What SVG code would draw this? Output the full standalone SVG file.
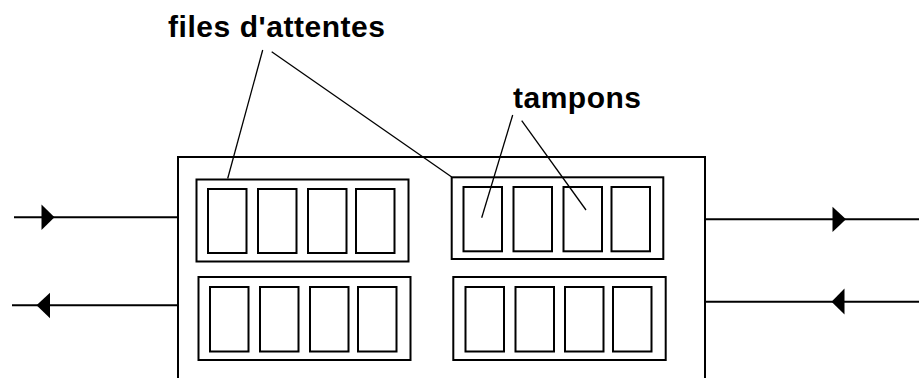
<svg xmlns="http://www.w3.org/2000/svg" width="919" height="378" viewBox="0 0 919 378">
<style>
.box{fill:none;stroke:#000;stroke-width:2}
.cell{fill:none;stroke:#000;stroke-width:2}
.wire{fill:none;stroke:#000;stroke-width:2}
.lead{fill:none;stroke:#000;stroke-width:1.3}
.head{fill:#000;stroke:none}
.lbl{font-family:"Liberation Sans",Arial,sans-serif;font-weight:bold;font-size:30px;fill:#000}
</style>
<rect width="919" height="378" fill="#fff"/>
<g id="router">
<rect class="box" x="178" y="157" width="527" height="240"/>
</g>
<g id="queue1">
<rect class="box" x="196.5" y="179.5" width="212" height="82"/>
<rect class="cell" x="208" y="189" width="38.5" height="64"/>
<rect class="cell" x="258" y="189" width="38.5" height="64"/>
<rect class="cell" x="308" y="189" width="38.5" height="64"/>
<rect class="cell" x="356" y="189" width="38.5" height="64"/>
</g>
<g id="queue2">
<rect class="box" x="198.5" y="277" width="212" height="83"/>
<rect class="cell" x="210" y="287" width="38.5" height="64.5"/>
<rect class="cell" x="260" y="287" width="38.5" height="64.5"/>
<rect class="cell" x="310" y="287" width="38.5" height="64.5"/>
<rect class="cell" x="358" y="287" width="38.5" height="64.5"/>
</g>
<g id="queue3">
<rect class="box" x="451.7" y="177.3" width="211.6" height="81.7"/>
<rect class="cell" x="463.5" y="187" width="38.5" height="64.3"/>
<rect class="cell" x="513.5" y="187" width="38.5" height="64.3"/>
<rect class="cell" x="563.5" y="187" width="38.5" height="64.3"/>
<rect class="cell" x="611.5" y="187" width="38.5" height="64.3"/>
</g>
<g id="queue4">
<rect class="box" x="453.3" y="277" width="212.4" height="83"/>
<rect class="cell" x="465.5" y="287" width="38.5" height="64.5"/>
<rect class="cell" x="515.5" y="287" width="38.5" height="64.5"/>
<rect class="cell" x="565" y="287" width="38.5" height="64.5"/>
<rect class="cell" x="613" y="287" width="38.5" height="64.5"/>
</g>
<g id="label-files">
<text class="lbl" x="168" y="36.5" textLength="217" lengthAdjust="spacing">files d'attentes</text>
</g>
<g id="label-tampons">
<text class="lbl" x="513" y="107.5" textLength="128" lengthAdjust="spacing">tampons</text>
</g>
<g id="connectors">
<line class="wire" x1="14" y1="217.3" x2="178" y2="217.3"/>
<polygon class="head" points="41.5,204.5 54.5,217.3 41.5,230"/>
<line class="wire" x1="12" y1="305.3" x2="178" y2="305.3"/>
<polygon class="head" points="36.5,305.3 50,292.7 50,318.3"/>
<line class="wire" x1="705" y1="219.3" x2="919" y2="219.3"/>
<polygon class="head" points="832.5,206.7 846,219.3 832.5,232"/>
<line class="wire" x1="705" y1="301.7" x2="919" y2="301.7"/>
<polygon class="head" points="831.5,301.7 844.5,288.5 844.5,314.5"/>
<line class="lead" x1="262.7" y1="50" x2="227.7" y2="178.5"/>
<line class="lead" x1="271.7" y1="51.7" x2="451.7" y2="177"/>
<line class="lead" x1="512.7" y1="115" x2="481.7" y2="217.7"/>
<line class="lead" x1="521.7" y1="120.7" x2="586" y2="210"/>
</g>
</svg>
